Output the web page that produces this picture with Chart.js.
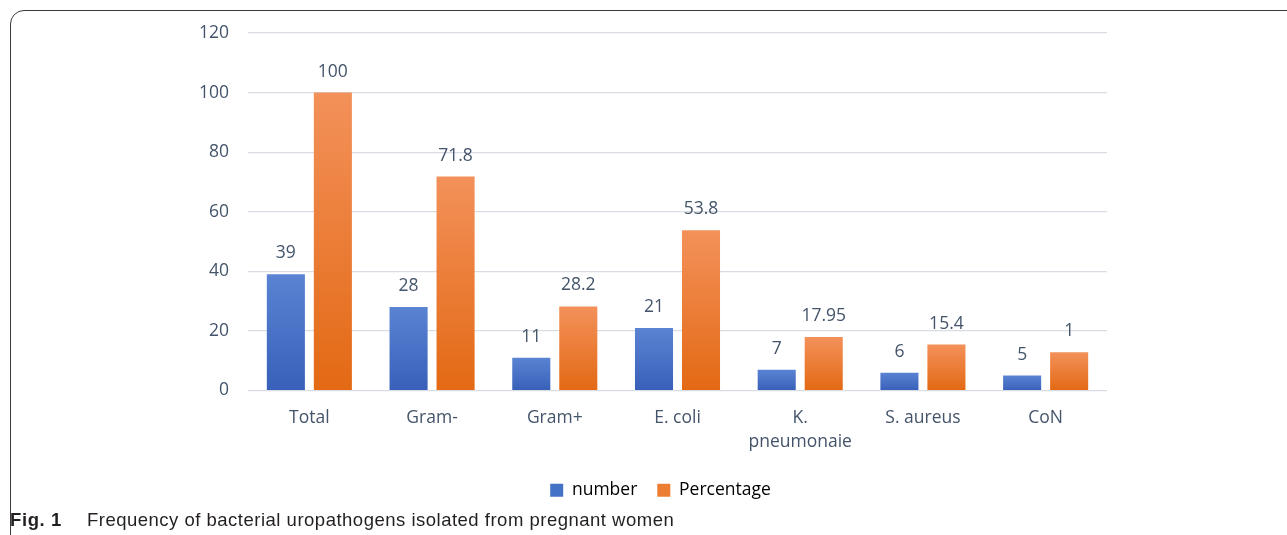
<!DOCTYPE html>
<html>
<head>
<meta charset="utf-8">
<script src="https://cdn.jsdelivr.net/npm/chart.js@4"></script>
<style>
  body { margin: 0; background: #fff; }
  #frame { position: absolute; left: 10px; top: 10px; width: 1320px; height: 600px;
           border: 1.5px solid #3a3a3a; border-radius: 14px; }
  #wrap { position: absolute; left: 0; top: 0; width: 1287px; height: 535px; overflow: hidden; }
  #chartBox { position: absolute; left: 0; top: 0; width: 1287px; height: 535px; }
  #caption { position: absolute; left: 10px; top: 509px; font-family: "Liberation Sans", sans-serif;
             font-size: 18.5px; color: #231f20; white-space: nowrap; letter-spacing: 0.5px; }
  #caption b { margin-right: 25px; letter-spacing: 0.6px; }
</style>
</head>
<body>
<div id="wrap">
  <div id="frame"></div>
  <div id="chartBox"><canvas id="myChart"></canvas></div>
  <div id="caption"><b>Fig. 1</b>Frequency of bacterial uropathogens isolated from pregnant women</div>
</div>
<script>
const categories = ['Total', 'Gram-', 'Gram+', 'E. coli', ['K.', 'pneumonaie'], 'S. aureus', 'CoN'];
const numberValues = [39, 28, 11, 21, 7, 6, 5];
const percentValues = [100, 71.8, 28.2, 53.8, 17.95, 15.4, 12.8];
const numberLabels = ['39', '28', '11', '21', '7', '6', '5'];
const percentLabels = ['100', '71.8', '28.2', '53.8', '17.95', '15.4', '1'];
const yTicks = [0, 20, 40, 60, 80, 100, 120];

const textColor = '#44546a';
const font = { family: '"Open Sans", sans-serif', size: 17.5 };

function barGradient(top, bottom) {
  return function (c) {
    const chart = c.chart;
    if (!chart.chartArea || c.raw === undefined) return bottom;
    const y = chart.scales.y.getPixelForValue(c.raw);
    const g = chart.ctx.createLinearGradient(0, y, 0, chart.chartArea.bottom);
    g.addColorStop(0, top);
    g.addColorStop(1, bottom);
    return g;
  };
}

const valueLabels = {
  id: 'valueLabels',
  afterDatasetsDraw(chart) {
    const ctx = chart.ctx;
    const texts = [numberLabels, percentLabels];
    ctx.save();
    ctx.font = font.size + 'px ' + font.family;
    ctx.fillStyle = textColor;
    ctx.textAlign = 'center';
    ctx.textBaseline = 'middle';
    chart.data.datasets.forEach((ds, i) => {
      chart.getDatasetMeta(i).data.forEach((bar, j) => {
        ctx.fillText(texts[i][j], bar.x, bar.y - 21);
      });
    });
    ctx.restore();
  }
};

// move the legend so it sits under the middle of the page, like the original
const legendShift = {
  id: 'legendShift',
  afterLayout(chart) {
    chart.legend.left += 107;
    chart.legend.right += 107;
  }
};

const ctx = document.getElementById('myChart');

new Chart(ctx, {
  type: 'bar',
  data: {
    labels: categories,
    datasets: [{
      label: 'number',
      data: numberValues,
      backgroundColor: barGradient('#5b83d3', '#3860b9'),
      legendColor: '#4472c4'
    }, {
      label: 'Percentage',
      data: percentValues,
      backgroundColor: barGradient('#f3915a', '#e36914'),
      legendColor: '#ed7d31'
    }]
  },
  plugins: [valueLabels, legendShift],
  options: {
    responsive: true,
    maintainAspectRatio: false,
    animation: false,
    categoryPercentage: 0.766,
    barPercentage: 0.81,
    layout: { padding: { left: 0, right: 180, top: 33, bottom: 26 } },
    plugins: {
      tooltip: { enabled: false },
      legend: {
        position: 'bottom',
        labels: {
          color: textColor,
          font: font,
          boxWidth: 13,
          boxHeight: 13,
          padding: 20,
          generateLabels(chart) {
            return chart.data.datasets.map((ds, i) => ({
              text: ds.label,
              fillStyle: ds.legendColor,
              strokeStyle: ds.legendColor,
              lineWidth: 0,
              datasetIndex: i
            }));
          }
        }
      }
    },
    scales: {
      x: {
        grid: { display: false, drawTicks: false },
        border: { display: false },
        ticks: { color: textColor, font: { ...font, lineHeight: 1.4 }, padding: 15, maxRotation: 0 },
        afterFit(s) { s.height = 71; }
      },
      y: {
        min: 0,
        max: 120,
        afterBuildTicks(s) { s.ticks = yTicks.map(v => ({ value: v })); },
        grid: { color: '#d9dde3', lineWidth: 1.2, drawTicks: false },
        border: { display: false },
        ticks: { color: textColor, font: font, padding: 19 },
        afterFit(s) { s.width = 248; }
      }
    }
  }
});
</script>
</body>
</html>
